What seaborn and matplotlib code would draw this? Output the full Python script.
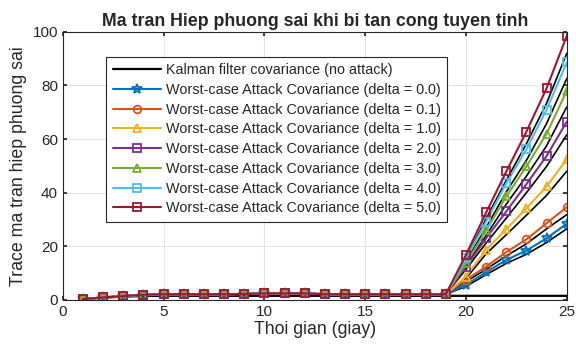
import matplotlib
matplotlib.use("Agg")
import matplotlib.pyplot as plt
import numpy as np
import pandas as pd
import seaborn as sns

sns.set_theme(style="ticks")
plt.rcParams["font.family"] = ["Liberation Sans", "DejaVu Sans"]

# =====================================================
# DATA
# =====================================================

time = list(range(1, 26))

# common part t = 1..19 (before attack)
base = [0.3, 0.9, 1.4, 1.9, 2.1, 2.1, 2.1, 2.1, 2.2, 2.4,
        2.4, 2.4, 2.1, 2.1, 2.1, 2.1, 2.1, 2.1, 2.1]

kalman = [0.3, 0.8, 1.2, 1.4, 1.5, 1.5, 1.5, 1.5, 1.5, 1.5,
          1.5, 1.5, 1.5, 1.5, 1.5, 1.5, 1.5, 1.5, 1.5, 1.5,
          1.5, 1.5, 1.5, 1.5, 1.5]

deltas = ["0.0", "0.1", "1.0", "2.0", "3.0", "4.0", "5.0"]

# t = 20..25 for each delta
attack_tail = {
    "0.0": [5.6, 10.3, 14.9, 18.4, 23.0, 28.4],
    "0.1": [7.5, 12.4, 17.8, 22.6, 28.6, 34.6],
    "1.0": [8.7, 18.7, 26.4, 34.2, 42.3, 52.5],
    "2.0": [12.4, 23.0, 33.0, 43.2, 53.7, 66.5],
    "3.0": [13.7, 25.9, 38.6, 49.8, 62.0, 78.0],
    "4.0": [15.5, 29.2, 43.5, 56.2, 71.0, 88.6],
    "5.0": [16.8, 32.6, 47.9, 62.8, 79.0, 98.5],
}

# unlabeled black reference lines, t = 20..25
black_tail = {
    "0.0": [5.0, 9.4, 13.6, 17.0, 21.4, 26.5],
    "0.1": [6.8, 11.4, 16.4, 20.9, 26.5, 31.8],
    "1.0": [8.0, 17.2, 24.3, 31.6, 39.0, 48.0],
    "2.0": [11.4, 21.2, 30.5, 40.0, 49.8, 61.6],
    "3.0": [12.7, 24.0, 35.7, 46.2, 57.5, 72.0],
    "4.0": [14.3, 27.0, 40.3, 52.1, 65.8, 82.6],
    "5.0": [15.6, 30.3, 44.6, 58.3, 73.4, 92.0],
}

colors = ["#0072BD", "#D95319", "#EDB120", "#7E2F8E",
          "#77AC30", "#4DBEEE", "#A2142F"]
markers = ["*", "o", "^", "s", "^", "s", "s"]

# =====================================================
# PLOT
# =====================================================

fig = plt.figure(figsize=(5.76, 3.54), dpi=100)
ax = fig.add_axes([0.109, 0.153, 0.875, 0.757])

for d in deltas:
    sns.lineplot(x=time[18:], y=[base[-1]] + black_tail[d], ax=ax,
                 color="black", linewidth=1.2, legend=False)

sns.lineplot(x=time, y=kalman, ax=ax, color="black", linewidth=1.6,
             label="Kalman filter covariance (no attack)")

for d, c, m in zip(deltas, colors, markers):
    sns.lineplot(
        x=time,
        y=base + attack_tail[d],
        ax=ax,
        color=c,
        linewidth=1.5,
        marker=m,
        markersize=5.5 if m != "*" else 7,
        markerfacecolor="none",
        markeredgecolor=c,
        markeredgewidth=1.3,
        label=f"Worst-case Attack Covariance (delta = {d})",
    )

ax.set_xlim(0, 25)
ax.set_ylim(0, 100)
ax.set_xticks([0, 5, 10, 15, 20, 25])
ax.set_yticks([0, 20, 40, 60, 80, 100])
ax.grid(True, color="#e3e3e3", linewidth=0.8)
ax.tick_params(direction="in", labelsize=11, colors="#262626",
               length=3, top=True, right=True, labeltop=False,
               labelright=False)
for s in ax.spines.values():
    s.set_visible(True)
    s.set_color("#262626")
    s.set_linewidth(0.8)

ax.set_xlabel("Thoi gian (giay)", fontsize=12.75, color="#262626", labelpad=2)
ax.set_ylabel("Trace ma tran hiep phuong sai", fontsize=12.75,
              color="#262626", labelpad=4)
ax.set_title("Ma tran Hiep phuong sai khi bi tan cong tuyen tinh",
             fontsize=12.8, fontweight="bold", pad=4)

leg = ax.legend(loc="upper left", bbox_to_anchor=(0.0867, 0.908),
                borderaxespad=0, fontsize=10.4, frameon=True,
                fancybox=False, edgecolor="#262626", framealpha=1,
                handlelength=3.3, handletextpad=0.35,
                labelspacing=0.4, borderpad=0.45)
leg.get_frame().set_linewidth(0.8)

plt.savefig("out.png", dpi=100)
plt.close()
